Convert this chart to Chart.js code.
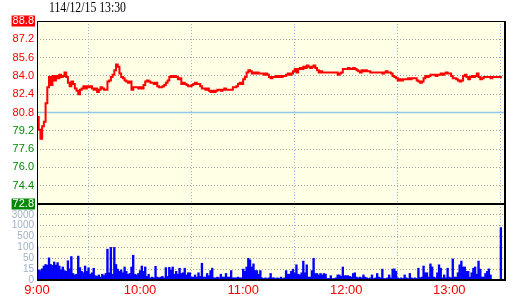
<!DOCTYPE html>
<html>
<head>
<meta charset="utf-8">
<script src="https://cdn.jsdelivr.net/npm/chart.js@4"></script>
<style>
  html, body { margin: 0; padding: 0; background: #fff; }
  #wrap { position: relative; width: 520px; height: 300px; }
  #stamp { position: absolute; left: 49px; top: 1px; font: 14px/14px "Liberation Serif", serif; color: #000;
           transform: scaleX(0.84); transform-origin: 0 0; white-space: nowrap; }
  canvas { display: block; }
</style>
</head>
<body>
<div id="wrap">
  <canvas id="chart" width="520" height="300"></canvas>
  <div id="stamp"></div>
</div>
<script>
// Intraday tick chart: price on top, volume (log-ish stepped scale) below
const STAMP = "114/12/15 13:30";
const PREV_CLOSE = 80.8;
const LIMIT_UP = 88.8;
const LIMIT_DOWN = 72.8;
const HOUR_LABELS = ["9:00", "10:00", "11:00", "12:00", "13:00"];
const VOL_TICKS = [0, 15, 50, 100, 500, 1000, 3000];

// one value per minute, index 0 = 9:00 ... index 270 = 13:30
const PRICES = [
  80.4, 79.3, 78.5, 79.6, 80.0, 81.6, 83.0, 83.9, 83.2, 84.0,
  83.6, 84.0, 83.8, 84.1, 83.9, 84.0, 84.3, 83.9, 83.4, 83.1,
  83.5, 83.3, 82.9, 82.7, 82.4, 82.8, 82.9, 83.1, 82.9, 83.1,
  83.0, 83.1, 82.9, 82.8, 82.9, 82.6, 82.8, 83.0, 82.9, 82.8,
  82.8, 83.5, 83.6, 83.9, 84.1, 84.5, 85.0, 84.8, 84.2, 83.9,
  83.8, 83.6, 83.5, 83.4, 83.5, 82.8, 83.0, 83.0, 83.0, 82.9,
  83.0, 82.9, 83.2, 83.5, 83.6, 83.5, 83.4, 83.4, 83.3, 83.4,
  83.1, 83.0, 83.0, 83.1, 83.2, 83.4, 83.6, 83.9, 84.0, 83.9,
  84.0, 83.9, 83.7, 83.8, 83.3, 83.4, 83.3, 83.2, 83.1, 83.1,
  83.2, 83.3, 83.4, 83.3, 83.3, 83.1, 82.9, 82.9, 82.8, 82.9,
  82.7, 82.6, 82.7, 82.6, 82.7, 82.8, 82.8, 82.7, 82.8, 82.9,
  82.8, 82.8, 82.8, 82.8, 83.0, 83.0, 83.1, 83.3, 83.4, 83.3,
  83.7, 83.9, 84.3, 84.5, 84.4, 84.2, 84.3, 84.2, 84.3, 84.2,
  84.2, 84.2, 84.1, 84.2, 84.1, 83.9, 83.8, 83.9, 83.9, 84.0,
  83.9, 84.0, 83.9, 84.0, 84.0, 84.1, 84.2, 84.1, 84.2, 84.4,
  84.6, 84.3, 84.6, 84.7, 84.6, 84.8, 84.7, 84.9, 84.8, 84.7,
  84.8, 84.9, 84.7, 84.5, 84.3, 84.4, 84.3, 84.3, 84.3, 84.3,
  84.3, 84.3, 84.3, 84.3, 84.3, 84.1, 84.2, 84.3, 84.6, 84.6,
  84.6, 84.7, 84.6, 84.6, 84.7, 84.6, 84.5, 84.4, 84.3, 84.5,
  84.4, 84.5, 84.4, 84.4, 84.3, 84.3, 84.3, 84.3, 84.3, 84.3,
  84.3, 84.2, 84.3, 84.4, 84.3, 84.3, 84.2, 84.0, 83.9, 83.8,
  83.6, 83.7, 83.6, 83.7, 83.7, 83.7, 83.8, 83.7, 83.8, 83.8,
  83.8, 83.6, 83.5, 83.4, 83.5, 83.8, 84.0, 83.9, 84.0, 84.1,
  84.1, 84.1, 84.0, 84.1, 84.1, 84.2, 84.1, 84.2, 84.3, 84.2,
  84.2, 84.0, 83.8, 83.8, 83.7, 83.6, 83.5, 83.6, 84.0, 84.1,
  83.9, 83.7, 83.9, 84.0, 83.9, 84.0, 84.2, 83.9, 83.7, 83.8,
  83.9, 83.9, 83.9, 83.9, 83.8, 83.9, 83.9, 83.9, 83.9, 83.9,
  83.8
];

const VOLUMES = [
  130, 14, 13, 16, 25, 30, 28, 52, 30, 27,
  38, 28, 36, 25, 14, 22, 13, 12, 42, 16,
  58, 9, 7, 8, 60, 20, 12, 10, 25, 12,
  19, 8, 10, 18, 6, 5, 7, 4, 8, 6,
  9, 92, 10, 100, 8, 100, 30, 15, 12, 14,
  10, 22, 12, 8, 9, 22, 64, 8, 7, 9,
  13, 25, 12, 22, 5, 8, 3, 4, 3, 24,
  4, 3, 4, 5, 3, 20, 5, 21, 14, 22,
  8, 12, 8, 18, 9, 10, 18, 7, 10, 10,
  4, 4, 7, 4, 10, 5, 34, 4, 4, 9,
  6, 13, 18, 3, 3, 4, 3, 8, 4, 4,
  9, 4, 4, 13, 3, 3, 3, 4, 3, 3,
  15, 12, 22, 50, 45, 22, 32, 13, 13, 8,
  13, 3, 2, 3, 2, 3, 9, 3, 3, 2,
  3, 2, 4, 2, 3, 13, 8, 8, 12, 15,
  10, 29, 8, 7, 10, 41, 10, 29, 4, 4,
  13, 50, 9, 9, 7, 9, 7, 9, 8, 2,
  2, 6, 2, 2, 3, 7, 7, 5, 22, 6,
  6, 6, 5, 4, 9, 10, 4, 3, 4, 3,
  7, 4, 3, 2, 3, 7, 2, 3, 9, 4,
  3, 15, 2, 2, 3, 7, 3, 15, 16, 12,
  3, 2, 3, 2, 7, 3, 2, 9, 3, 2,
  3, 2, 18, 3, 4, 25, 10, 10, 4, 32,
  22, 4, 3, 10, 29, 18, 3, 7, 3, 18,
  4, 3, 48, 4, 4, 10, 29, 41, 22, 22,
  12, 12, 4, 10, 18, 22, 8, 41, 15, 4,
  4, 9, 12, 16, 7, 0, 0, 0, 0, 0,
  915
];

document.getElementById("stamp").textContent = STAMP;

// volume axis is evenly spaced between the VOL_TICKS steps
function volLevel(v) {
  for (let i = 1; i < VOL_TICKS.length; i++) {
    if (v <= VOL_TICKS[i]) return i - 1 + (v - VOL_TICKS[i - 1]) / (VOL_TICKS[i] - VOL_TICKS[i - 1]);
  }
  return VOL_TICKS.length - 1;
}

const RED = "#ff0000";
const GREEN = "#008800";
const DOTS = "#a0a0a0";
const NONE = "rgba(0,0,0,0)";
const X_END = 272.4;

const isEdge = v => Math.abs(v - LIMIT_UP) < 0.01 || Math.abs(v - LIMIT_DOWN) < 0.01;

const framePlugin = {
  id: "frame",
  beforeDraw(chart) {
    const { ctx, chartArea: a } = chart;
    ctx.save();
    ctx.fillStyle = "#ffffe6";
    ctx.fillRect(a.left, a.top, a.right - a.left, a.bottom - a.top);
    ctx.restore();
  },
  afterDraw(chart) {
    const { ctx, chartArea: a, scales } = chart;
    const mid = Math.round(scales.yv.top);
    ctx.save();
    ctx.strokeStyle = "#000";
    ctx.lineWidth = 1;
    ctx.beginPath();
    ctx.moveTo(a.left + 0.5, a.top);
    ctx.lineTo(a.left + 0.5, a.bottom);
    ctx.moveTo(a.left, a.top + 0.5);
    ctx.lineTo(a.right, a.top + 0.5);
    ctx.stroke();
    ctx.lineWidth = 2;
    ctx.beginPath();
    ctx.moveTo(a.right, a.top);
    ctx.lineTo(a.right, a.bottom + 1);
    ctx.moveTo(a.left, mid);
    ctx.lineTo(a.right, mid);
    ctx.moveTo(a.left, a.bottom);
    ctx.lineTo(a.right + 1, a.bottom);
    ctx.stroke();
    ctx.restore();
  }
};

new Chart(document.getElementById("chart"), {
  type: "line",
  data: {
    datasets: [
      {
        data: PRICES.map((p, i) => ({ x: i, y: p })),
        yAxisID: "y",
        borderColor: RED,
        borderWidth: 2,
        pointRadius: 0,
        stepped: true,
        order: 0
      },
      {
        data: [{ x: 0, y: PREV_CLOSE }, { x: X_END, y: PREV_CLOSE }],
        yAxisID: "y",
        borderColor: "#92c6ea",
        borderWidth: 1.5,
        pointRadius: 0,
        order: 1
      },
      {
        type: "bar",
        data: VOLUMES.map((v, i) => ({ x: i, y: volLevel(v) })),
        yAxisID: "yv",
        backgroundColor: "#0000ff",
        borderWidth: 0,
        barPercentage: 1,
        categoryPercentage: 1,
        order: 2
      }
    ]
  },
  options: {
    responsive: false,
    animation: false,
    events: [],
    layout: { padding: { top: 21, right: 15, bottom: 0, left: 0 } },
    plugins: { legend: { display: false }, tooltip: { enabled: false } },
    scales: {
      x: {
        type: "linear",
        min: 0,
        max: X_END,
        offset: false,
        grid: { color: "#8fb8dc", drawTicks: false },
        border: { display: false, dash: [1, 2] },
        ticks: {
          stepSize: 60,
          includeBounds: false,
          autoSkip: false,
          maxRotation: 0,
          padding: 4,
          color: RED,
          font: { family: "'Liberation Sans Narrow', 'Liberation Sans', Arial", size: 13, lineHeight: 1 },
          callback: v => HOUR_LABELS[Math.round(v / 60)]
        },
        afterFit: s => { s.height = 20; }
      },
      yv: {
        type: "linear",
        position: "left",
        stack: "panes",
        stackWeight: 76,
        weight: 1,
        min: 0,
        max: VOL_TICKS.length,
        grid: {
          color: c => (c.tick.value === 0 || c.tick.value === VOL_TICKS.length) ? NONE : DOTS,
          drawTicks: false
        },
        border: { display: false, dash: [1, 2] },
        ticks: {
          stepSize: 1,
          autoSkip: false,
          padding: 3,
          color: "#9fb2c6",
          font: { family: "'Liberation Sans', Arial", size: 10, lineHeight: 1 },
          callback: v => v < VOL_TICKS.length ? String(VOL_TICKS[v]) : ""
        },
        afterFit: s => { s.width = 37; }
      },
      y: {
        type: "linear",
        position: "left",
        stack: "panes",
        stackWeight: 183,
        weight: 2,
        min: LIMIT_DOWN,
        max: LIMIT_UP,
        grid: {
          color: c => (isEdge(c.tick.value) || Math.abs(c.tick.value - PREV_CLOSE) < 0.01) ? NONE : DOTS,
          drawTicks: false
        },
        border: { display: false, dash: [1, 2] },
        ticks: {
          stepSize: 1.6,
          autoSkip: false,
          padding: 3,
          font: { family: "'Liberation Sans', Arial", size: 11, lineHeight: 1 },
          color: c => isEdge(c.tick.value) ? "#ffffff" : (c.tick.value >= PREV_CLOSE - 0.01 ? RED : GREEN),
          showLabelBackdrop: c => isEdge(c.tick.value),
          backdropColor: c => c.tick.value > PREV_CLOSE ? RED : GREEN,
          backdropPadding: { left: 1, right: 1, top: 0, bottom: 0 },
          callback: v => v.toFixed(1)
        },
        afterFit: s => { s.width = 37; }
      }
    }
  },
  plugins: [framePlugin]
});
</script>
</body>
</html>
